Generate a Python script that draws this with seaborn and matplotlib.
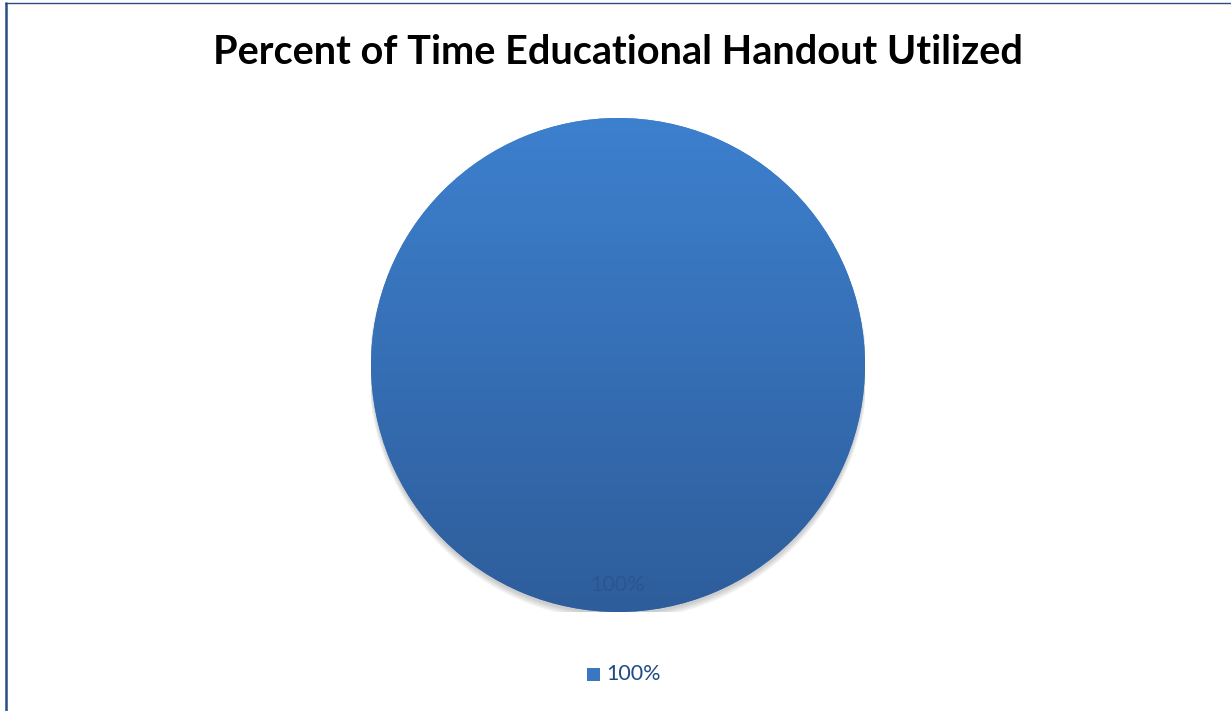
import numpy as np
import matplotlib
matplotlib.use("Agg")
import matplotlib.pyplot as plt
import seaborn as sns
from matplotlib.colors import LinearSegmentedColormap
from matplotlib.lines import Line2D
from matplotlib.patches import Rectangle, Ellipse

# ---- data ----
categories = ["100%"]
values = [100]
title = "Percent of Time Educational Handout Utilized"

sns.set_theme(style="white")
plt.rcParams['font.family'] = ['Lato', 'DejaVu Sans']

W, H = 1231, 711
fig = plt.figure(figsize=(W / 100, H / 100), dpi=100)
fig.patch.set_facecolor("white")

# pie axes: center (618,365) px, radius 247 px
cx, cy, r = 618, 365, 247
ax = fig.add_axes([(cx - r) / W, (H - cy - r) / H, 2 * r / W, 2 * r / H])

# soft shadow below the pie
for i, a in enumerate([0.05, 0.05, 0.05, 0.05]):
    ax.add_patch(Ellipse((0, -0.012 - 0.004 * i), 2.0 + 0.006 * i, 2.0 + 0.006 * i,
                         facecolor="#000000", alpha=a, edgecolor="none", zorder=0))

palette = sns.color_palette(["#3a7bc8"])
wedges, texts, autotexts = ax.pie(
    values, labels=None, colors=palette, startangle=90, counterclock=True,
    autopct=lambda p: f"{p:.0f}%", pctdistance=0.89, radius=1,
    wedgeprops=dict(linewidth=0, zorder=1), textprops=dict(fontsize=15.5, color="#2a5590"),
)

# vertical gradient clipped to wedge
cmap = LinearSegmentedColormap.from_list("g", ["#3d80ce", "#2e5d9b"])
grad = np.linspace(0, 1, 256).reshape(-1, 1)
for w in wedges:
    im = ax.imshow(grad, extent=[-1, 1, -1, 1], origin="upper", cmap=cmap,
                   aspect="auto", zorder=2)
    im.set_clip_path(w)
for t in autotexts:
    t.set_zorder(5)

ax.set_xlim(-1, 1)
ax.set_ylim(-1, 1)
ax.set_aspect("equal")
ax.axis("off")

# title
fig.text(cx / W, 1 - 52 / H, title, ha="center", va="center",
         fontsize=28.5, fontweight="bold", color="black")

# legend
fig.patches.append(Rectangle((587 / W, 1 - 681 / H), 13 / W, 13 / H,
                             transform=fig.transFigure, facecolor="#3a77c2",
                             edgecolor="none"))
fig.text(606 / W, 1 - 674 / H, categories[0], ha="left", va="center",
         fontsize=15.5, color="#1f4a85")

# border
fig.add_artist(Line2D([5.5 / W, 5.5 / W], [0, 1 - 3 / H], transform=fig.transFigure,
                      color="#284f82", linewidth=1.8))
fig.add_artist(Line2D([5 / W, 1], [1 - 3 / H, 1 - 3 / H], transform=fig.transFigure,
                      color="#284f82", linewidth=1.0))

fig.savefig("out.png", dpi=100, facecolor="white")
